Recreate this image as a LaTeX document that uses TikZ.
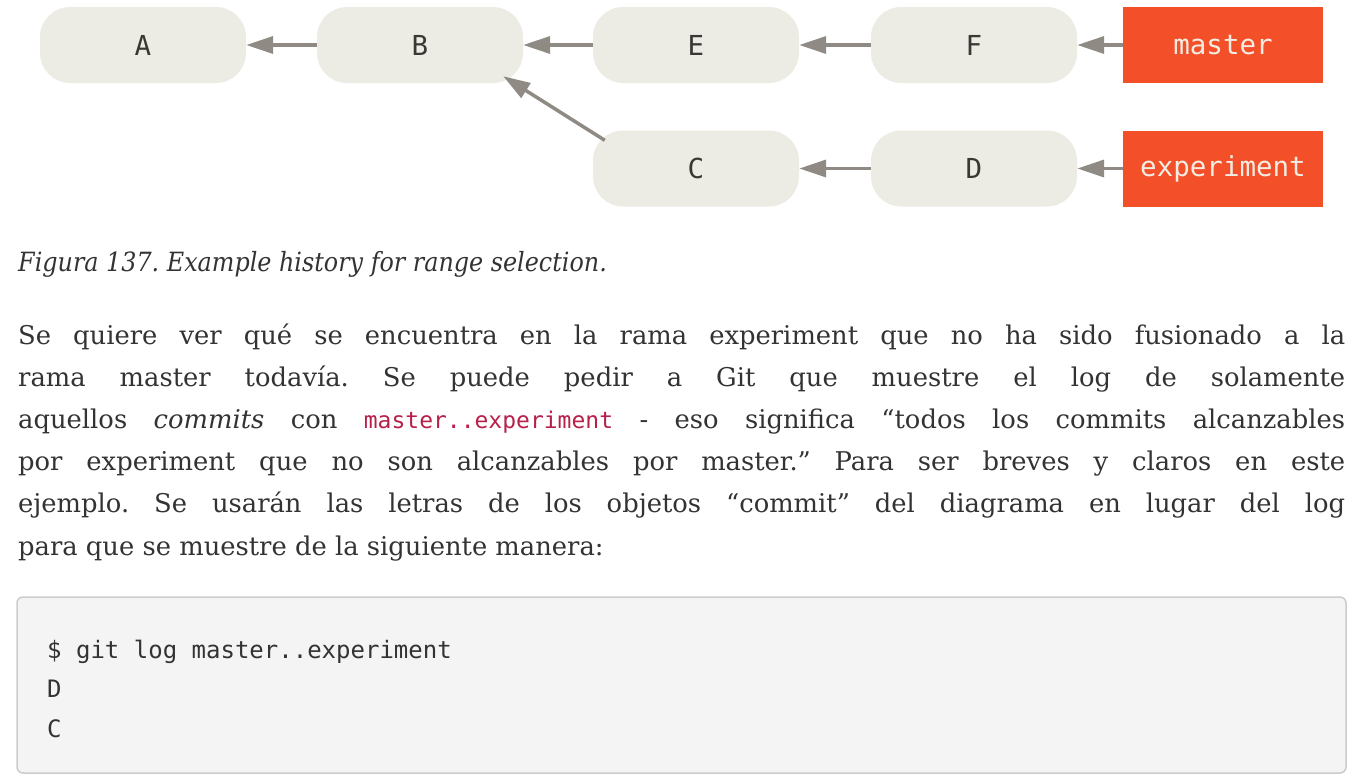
\documentclass[tikz,border=0pt]{standalone}
\usepackage{fontspec}
\setmainfont{DejaVu Serif}
\newfontfamily\monofam{DejaVu Sans Mono}
\newfontfamily\capfont[FakeStretch=0.9]{DejaVu Serif}
\usetikzlibrary{arrows.meta}
\definecolor{cfill}{RGB}{237,236,228}
\definecolor{ctext}{RGB}{58,55,52}
\definecolor{bfill}{RGB}{243,80,42}
\definecolor{btext}{RGB}{242,236,226}
\definecolor{arrc}{RGB}{143,139,132}
\definecolor{bodyc}{RGB}{51,51,51}
\definecolor{codered}{RGB}{183,32,74}
\definecolor{codefill}{RGB}{244,244,244}
\definecolor{codeedge}{RGB}{204,204,204}
\frenchspacing
\tikzset{
  commit/.style={rectangle, rounded corners=30pt, fill=cfill, minimum width=206pt,
    minimum height=76pt, inner sep=0pt, text=ctext,
    font=\monofam\fontsize{27.5pt}{30pt}\selectfont},
  branch/.style={rectangle, fill=bfill, minimum width=200pt, minimum height=76pt,
    inner sep=0pt, text=btext, font=\monofam\fontsize{27.5pt}{30pt}\selectfont},
  arr/.style={draw=arrc, line width=3.5pt, -{Triangle[length=27pt,width=17pt]}},
  bodyline/.style={anchor=base west, inner sep=0pt, text=bodyc,
    font=\frenchspacing\fontsize{25.8pt}{42pt}\selectfont},
  captext/.style={anchor=base west, inner sep=0pt, text=bodyc,
    font=\capfont\itshape\fontsize{26.5pt}{32pt}\selectfont},
  codebox/.style={draw=codeedge, fill=codefill, line width=1.5pt, rounded corners=6pt,
    minimum width=1329pt, minimum height=176pt, inner sep=0pt},
  codeline/.style={anchor=base west, inner sep=0pt, text=bodyc,
    font=\monofam\fontsize{24pt}{28pt}\selectfont},
}
\newcommand{\icode}[1]{{\color{codered}\monofam\fontsize{23pt}{28pt}\selectfont #1}}
\begin{document}
\begin{tikzpicture}[x=1pt,y=-1pt]
\useasboundingbox (0,0) rectangle (1358,777);
% commits
\node[commit] (A) at (143,45) {A};
\node[commit] (B) at (420,45) {B};
\node[commit] (E) at (696,45) {E};
\node[commit] (F) at (974,45) {F};
\node[commit] (C) at (696,168.5) {C};
\node[commit] (D) at (974,168.5) {D};
\node[branch] (master) at (1223,45) {master};
\node[branch] (experiment) at (1223,168.5) {experiment};
% connectors
\draw[arr] (B) -- (A);
\draw[arr] (E) -- (B);
\draw[arr] (F) -- (E);
\draw[arr] (master) -- (F);
\draw[arr] (D) -- (C);
\draw[arr] (experiment) -- (D);
\draw[arr] ([shift={(12,10)}]C.north west) -- ([shift={(-20,-7)}]B.south east);
% caption
\node[captext] (cap) at (18,271) {Figura 137. Example history for range selection.};
% body text
\node[bodyline] (l1) at (18,344.5) {\makebox[1327pt][s]{Se quiere ver qué se encuentra en la rama experiment que no ha sido fusionado a la}};
\node[bodyline] (l2) at (18,386.6) {\makebox[1327pt][s]{rama master todavía. Se puede pedir a Git que muestre el log de solamente}};
\node[bodyline] (l3) at (18,428.7) {\makebox[1327pt][s]{aquellos \textit{commits} con \icode{master..experiment} - eso significa “todos los commits alcanzables}};
\node[bodyline] (l4) at (18,470.8) {\makebox[1327pt][s]{por experiment que no son alcanzables por master.” Para ser breves y claros en este}};
\node[bodyline] (l5) at (18,512.9) {\makebox[1327pt][s]{ejemplo. Se usarán las letras de los objetos “commit” del diagrama en lugar del log}};
\node[bodyline] (l6) at (18,555) {para que se muestre de la siguiente manera:};
% code block
\node[codebox] (codebox) at (681.5,685) {};
\node[codeline] (c1) at (47,658) {\$ git log master..experiment};
\node[codeline] (c2) at (47,697) {D};
\node[codeline] (c3) at (47,737) {C};
\end{tikzpicture}
\end{document}
